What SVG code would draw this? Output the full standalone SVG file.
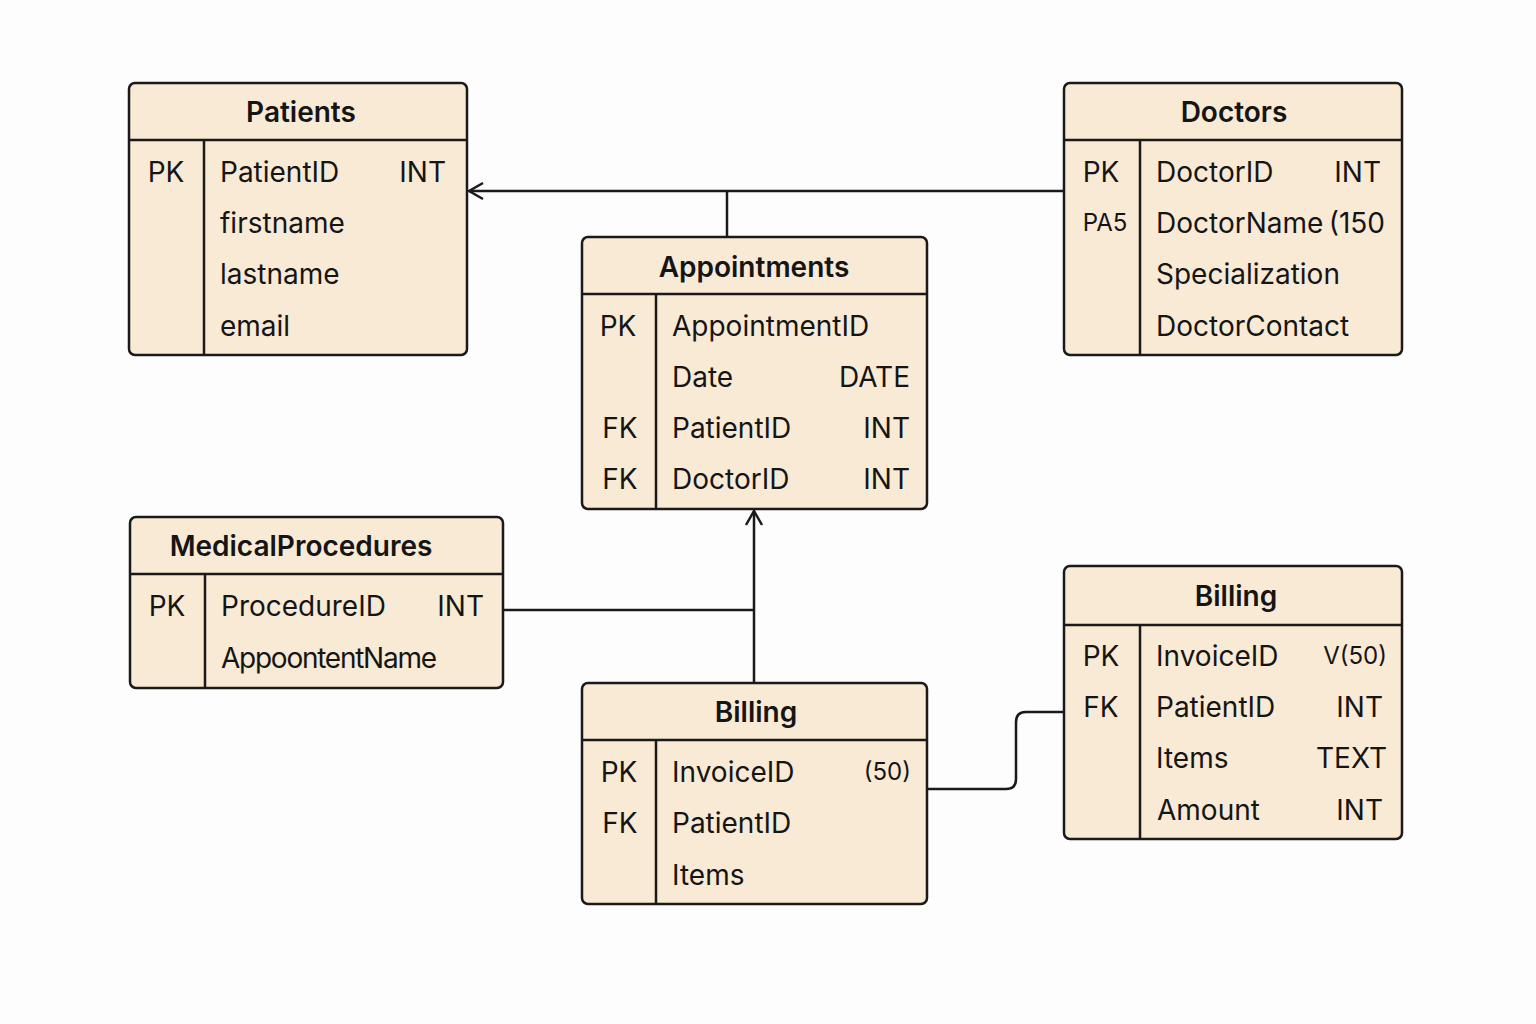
<svg xmlns="http://www.w3.org/2000/svg" width="1536" height="1024" viewBox="0 0 1536 1024">
<style>
.box{fill:#f9ead5;stroke:#1a1a1a;stroke-width:2.5}
.ln{stroke:#1a1a1a;stroke-width:2.5;fill:none}
.t{font-family:Inter,"Noto Sans","DejaVu Sans",sans-serif;font-size:28px;fill:#151515}
.h{font-weight:600;text-anchor:middle}
.k{text-anchor:middle}
.r{text-anchor:end}
.s{font-size:24px}
</style>
<defs>
<marker id="open" viewBox="0 0 20 20" refX="18" refY="10" markerWidth="20" markerHeight="20" markerUnits="userSpaceOnUse" orient="auto">
<path d="M4 2 L18 10 L4 18" fill="none" stroke="#1a1a1a" stroke-width="2.5"/>
</marker>
</defs>
<rect width="1536" height="1024" fill="#fdfdfd"/>
<g id="connectors">
<path class="ln" d="M1064 191 H469" marker-end="url(#open)"/>
<path class="ln" d="M727 237 V191"/>
<path class="ln" d="M754 683 V511" marker-end="url(#open)"/>
<path class="ln" d="M503 610 H754"/>
<path class="ln" d="M927 789 H1006 Q1016 789 1016 779 V722 Q1016 712 1026 712 H1064"/>
</g>
<g id="patients">
<rect class="box" x="129" y="83" width="338" height="272" rx="6"/>
<path class="ln" d="M129 140 H467 M204 140 V355"/>
<text class="t h" x="301" y="122">Patients</text>
<text class="t k" x="166" y="182">PK</text>
<text class="t" x="220" y="182">PatientID</text>
<text class="t r" x="446" y="182">INT</text>
<text class="t" x="220" y="233">firstname</text>
<text class="t" x="220" y="284">lastname</text>
<text class="t" x="220" y="336">email</text>
</g>
<g id="doctors">
<rect class="box" x="1064" y="83" width="338" height="272" rx="6"/>
<path class="ln" d="M1064 140 H1402 M1140 140 V355"/>
<text class="t h" x="1234" y="122">Doctors</text>
<text class="t k" x="1101" y="182">PK</text>
<text class="t" x="1156" y="182">DoctorID</text>
<text class="t r" x="1381" y="182">INT</text>
<text class="t k s" x="1105" y="231">PA5</text>
<text class="t" x="1156" y="233">DoctorName</text>
<text class="t r" x="1385" y="233">(150</text>
<text class="t" x="1156" y="284">Specialization</text>
<text class="t" x="1156" y="336">DoctorContact</text>
</g>
<g id="appointments">
<rect class="box" x="582" y="237" width="345" height="272" rx="6"/>
<path class="ln" d="M582 294 H927 M656 294 V509"/>
<text class="t h" x="754" y="277">Appointments</text>
<text class="t k" x="618" y="336">PK</text>
<text class="t" x="672" y="336">AppointmentID</text>
<text class="t" x="672" y="387">Date</text>
<text class="t r" x="910" y="387">DATE</text>
<text class="t k" x="620" y="438">FK</text>
<text class="t" x="672" y="438">PatientID</text>
<text class="t r" x="910" y="438">INT</text>
<text class="t k" x="620" y="489">FK</text>
<text class="t" x="672" y="489">DoctorID</text>
<text class="t r" x="910" y="489">INT</text>
</g>
<g id="medicalprocedures">
<rect class="box" x="130" y="517" width="373" height="171" rx="6"/>
<path class="ln" d="M130 574 H503 M205 574 V688"/>
<text class="t h" x="301" y="556">MedicalProcedures</text>
<text class="t k" x="167" y="616">PK</text>
<text class="t" x="221" y="616">ProcedureID</text>
<text class="t r" x="484" y="616">INT</text>
<text class="t" x="221" y="668" textLength="216">AppoontentName</text>
</g>
<g id="billing1">
<rect class="box" x="582" y="683" width="345" height="221" rx="6"/>
<path class="ln" d="M582 740 H927 M656 740 V904"/>
<text class="t h" x="756" y="722">Billing</text>
<text class="t k" x="619" y="782">PK</text>
<text class="t" x="672" y="782">InvoiceID</text>
<text class="t r s" x="911" y="780">(50)</text>
<text class="t k" x="620" y="833">FK</text>
<text class="t" x="672" y="833">PatientID</text>
<text class="t" x="672" y="885">Items</text>
</g>
<g id="billing2">
<rect class="box" x="1064" y="566" width="338" height="273" rx="6"/>
<path class="ln" d="M1064 625 H1402 M1140 625 V839"/>
<text class="t h" x="1236" y="606">Billing</text>
<text class="t k" x="1101" y="666">PK</text>
<text class="t" x="1156" y="666">InvoiceID</text>
<text class="t r s" x="1387" y="664">V(50)</text>
<text class="t k" x="1101" y="717">FK</text>
<text class="t" x="1156" y="717">PatientID</text>
<text class="t r" x="1383" y="717">INT</text>
<text class="t" x="1156" y="768">Items</text>
<text class="t r" x="1387" y="768">TEXT</text>
<text class="t" x="1157" y="820">Amount</text>
<text class="t r" x="1383" y="820">INT</text>
</g>
</svg>
